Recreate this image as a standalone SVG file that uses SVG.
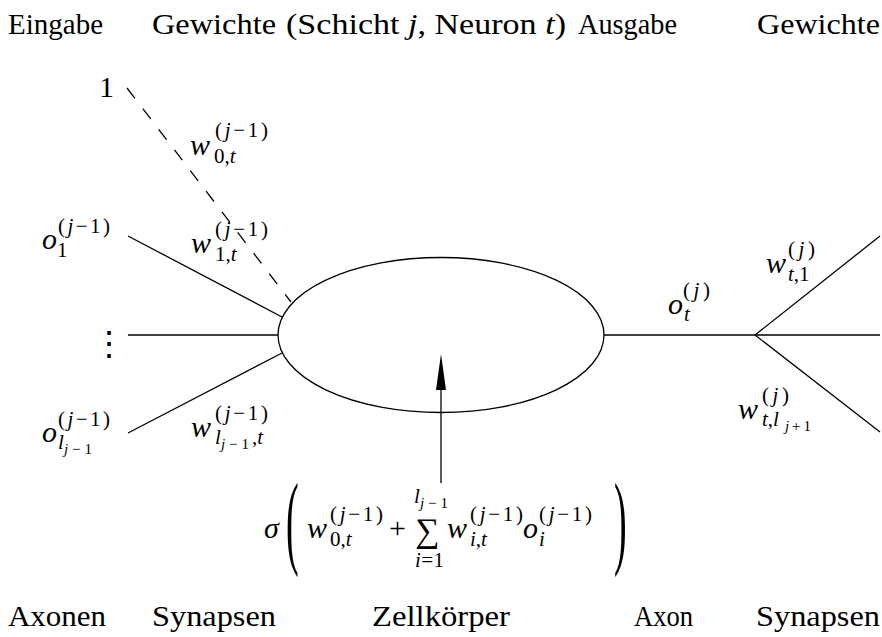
<svg xmlns="http://www.w3.org/2000/svg" width="882" height="637" viewBox="0 0 882 637" font-family="Liberation Serif">
<style>
.ln{stroke:#000;stroke-width:1.3;fill:none}
</style>
<rect width="882" height="637" fill="#fff"/>
<g id="connectors">
<line class="ln" x1="127" y1="88" x2="291" y2="302" stroke-dasharray="13,13"/>
<line class="ln" x1="128" y1="236" x2="282" y2="317"/>
<line class="ln" x1="128" y1="335" x2="278" y2="335"/>
<line class="ln" x1="128" y1="433" x2="282" y2="353"/>
<line class="ln" x1="604" y1="335" x2="755" y2="335"/>
<line class="ln" x1="755" y1="335" x2="880" y2="236"/>
<line class="ln" x1="755" y1="335" x2="880" y2="335"/>
<line class="ln" x1="755" y1="335" x2="880" y2="432"/>
<line class="ln" x1="441" y1="483" x2="441" y2="388"/>
<polygon points="441,354 436,390 446,390" fill="#000"/>
</g>
<g id="soma">
<ellipse class="ln" cx="441" cy="335" rx="163" ry="77.5"/>
</g>
<g id="header">
<text font-family="Liberation Serif" font-size="29" x="8" y="34" textLength="95" lengthAdjust="spacingAndGlyphs">Eingabe</text>
<text font-family="Liberation Serif" font-size="29" x="152" y="34" textLength="124" lengthAdjust="spacingAndGlyphs">Gewichte</text>
<text font-family="Liberation Serif" font-size="29" x="286" y="34" textLength="280" lengthAdjust="spacingAndGlyphs">(Schicht <tspan font-style="italic">j</tspan>, Neuron <tspan font-style="italic">t</tspan>)</text>
<text font-family="Liberation Serif" font-size="29" x="578" y="34" textLength="99" lengthAdjust="spacingAndGlyphs">Ausgabe</text>
<text font-family="Liberation Serif" font-size="29" x="757" y="34" textLength="123" lengthAdjust="spacingAndGlyphs">Gewichte</text>
</g>
<g id="footer">
<text font-family="Liberation Serif" font-size="29" x="8" y="626" textLength="98" lengthAdjust="spacingAndGlyphs">Axonen</text>
<text font-family="Liberation Serif" font-size="29" x="152" y="626" textLength="124" lengthAdjust="spacingAndGlyphs">Synapsen</text>
<text font-family="Liberation Serif" font-size="29" x="372" y="626" textLength="138" lengthAdjust="spacingAndGlyphs">Zellkörper</text>
<text font-family="Liberation Serif" font-size="29" x="634" y="626" textLength="59" lengthAdjust="spacingAndGlyphs">Axon</text>
<text font-family="Liberation Serif" font-size="29" x="756" y="626" textLength="124" lengthAdjust="spacingAndGlyphs">Synapsen</text>
</g>
<g id="bias">
<text font-family="Liberation Serif" x="99" y="97" font-size="30">1</text>
<text font-family="Liberation Serif" x="190" y="155" font-size="30" font-style="italic">w</text>
<text font-family="Liberation Serif" x="215" y="137" font-size="21" textLength="53" lengthAdjust="spacing">(<tspan font-style="italic">j</tspan>−1)</text>
<text font-family="Liberation Serif" x="214" y="163" font-size="21">0,<tspan font-style="italic">t</tspan></text>
</g>
<g id="input1">
<text font-family="Liberation Serif" x="42" y="249" font-size="30" font-style="italic">o</text>
<text font-family="Liberation Serif" x="58" y="233" font-size="21" textLength="52" lengthAdjust="spacing">(<tspan font-style="italic">j</tspan>−1)</text>
<text font-family="Liberation Serif" x="57" y="257" font-size="21">1</text>
</g>
<g id="weight1">
<text font-family="Liberation Serif" x="191" y="253" font-size="30" font-style="italic">w</text>
<text font-family="Liberation Serif" x="215" y="236" font-size="21" textLength="53" lengthAdjust="spacing">(<tspan font-style="italic">j</tspan>−1)</text>
<text font-family="Liberation Serif" x="215" y="261" font-size="21">1,<tspan font-style="italic">t</tspan></text>
</g>
<g id="dots">
<text font-family="Liberation Serif" x="92" y="355" font-size="34">⋮</text>
</g>
<g id="inputL">
<text font-family="Liberation Serif" x="42" y="442" font-size="30" font-style="italic">o</text>
<text font-family="Liberation Serif" x="58" y="426" font-size="21" textLength="52" lengthAdjust="spacing">(<tspan font-style="italic">j</tspan>−1)</text>
<text font-family="Liberation Serif" x="58" y="449" font-size="21" font-style="italic">l</text>
<text font-family="Liberation Serif" x="64" y="454" font-size="15" textLength="28" lengthAdjust="spacing"><tspan font-style="italic">j</tspan>−1</text>
</g>
<g id="weightL">
<text font-family="Liberation Serif" x="191" y="437" font-size="30" font-style="italic">w</text>
<text font-family="Liberation Serif" x="215" y="420" font-size="21" textLength="53" lengthAdjust="spacing">(<tspan font-style="italic">j</tspan>−1)</text>
<text font-family="Liberation Serif" x="215" y="444" font-size="21" font-style="italic">l</text>
<text font-family="Liberation Serif" x="221" y="449" font-size="15" textLength="28" lengthAdjust="spacing"><tspan font-style="italic">j</tspan>−1</text>
<text font-family="Liberation Serif" x="252" y="444" font-size="21">,<tspan font-style="italic">t</tspan></text>
</g>
<g id="output">
<text font-family="Liberation Serif" x="668" y="314" font-size="30" font-style="italic">o</text>
<text font-family="Liberation Serif" x="683" y="297" font-size="21" textLength="27" lengthAdjust="spacing">(<tspan font-style="italic">j</tspan>)</text>
<text font-family="Liberation Serif" x="684" y="321" font-size="21" font-style="italic">t</text>
</g>
<g id="outW1">
<text font-family="Liberation Serif" x="766" y="273" font-size="30" font-style="italic">w</text>
<text font-family="Liberation Serif" x="788" y="256" font-size="21" textLength="27" lengthAdjust="spacing">(<tspan font-style="italic">j</tspan>)</text>
<text font-family="Liberation Serif" x="788" y="281" font-size="21"><tspan font-style="italic">t</tspan>,1</text>
</g>
<g id="outWL">
<text font-family="Liberation Serif" x="738" y="419" font-size="30" font-style="italic">w</text>
<text font-family="Liberation Serif" x="762" y="402" font-size="21" textLength="27" lengthAdjust="spacing">(<tspan font-style="italic">j</tspan>)</text>
<text font-family="Liberation Serif" x="762" y="426" font-size="21"><tspan font-style="italic">t</tspan>,<tspan font-style="italic">l</tspan></text>
<text font-family="Liberation Serif" x="785" y="431" font-size="15" textLength="26" lengthAdjust="spacing"><tspan font-style="italic">j</tspan>+1</text>
</g>
<g id="formula">
<text font-family="Liberation Serif" x="264" y="538" font-size="30" font-style="italic">σ</text>
<text font-family="Liberation Serif" transform="translate(286,555) scale(0.38,1.04)" font-size="100">(</text>
<text font-family="Liberation Serif" x="307" y="538" font-size="30" font-style="italic">w</text>
<text font-family="Liberation Serif" x="330" y="521" font-size="21" textLength="53" lengthAdjust="spacing">(<tspan font-style="italic">j</tspan>−1)</text>
<text font-family="Liberation Serif" x="330" y="546" font-size="21">0,<tspan font-style="italic">t</tspan></text>
<text font-family="Liberation Serif" x="389" y="538" font-size="30">+</text>
<text font-family="Liberation Serif" x="415" y="542" font-size="34">∑</text>
<text font-family="Liberation Serif" x="414" y="503" font-size="21" font-style="italic">l</text>
<text font-family="Liberation Serif" x="420" y="508" font-size="15" textLength="28" lengthAdjust="spacing"><tspan font-style="italic">j</tspan>−1</text>
<text font-family="Liberation Serif" x="415" y="567" font-size="21" textLength="29" lengthAdjust="spacing"><tspan font-style="italic">i</tspan>=1</text>
<text font-family="Liberation Serif" x="447" y="538" font-size="30" font-style="italic">w</text>
<text font-family="Liberation Serif" x="470" y="521" font-size="21" textLength="53" lengthAdjust="spacing">(<tspan font-style="italic">j</tspan>−1)</text>
<text font-family="Liberation Serif" x="470" y="546" font-size="21"><tspan font-style="italic">i</tspan>,<tspan font-style="italic">t</tspan></text>
<text font-family="Liberation Serif" x="523" y="538" font-size="30" font-style="italic">o</text>
<text font-family="Liberation Serif" x="539" y="521" font-size="21" textLength="53" lengthAdjust="spacing">(<tspan font-style="italic">j</tspan>−1)</text>
<text font-family="Liberation Serif" x="539" y="546" font-size="21" font-style="italic">i</text>
<text font-family="Liberation Serif" transform="translate(614,555) scale(0.38,1.04)" font-size="100">)</text>
</g>
</svg>
